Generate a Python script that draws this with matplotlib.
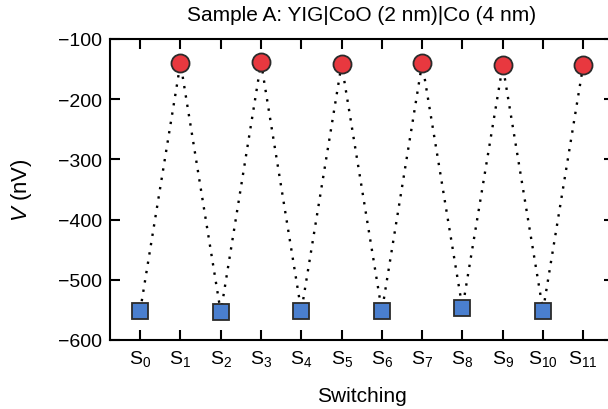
import numpy as np
import matplotlib
matplotlib.use("Agg")
import matplotlib.pyplot as plt

plt.rcParams['font.family'] = ['Liberation Sans', 'DejaVu Sans']
plt.rcParams['mathtext.fontset'] = 'custom'
plt.rcParams['mathtext.rm'] = 'Liberation Sans'
plt.rcParams['mathtext.it'] = 'Liberation Sans:italic'

# switching states and measured voltages (nV)
states = list(range(12))
tick_labels = ["S$_{%d}$" % i for i in states]
voltage = [-551, -140, -554, -139, -552, -142, -552, -140, -547, -144, -551, -143]

title = "Sample A: YIG|CoO (2 nm)|Co (4 nm)"

fig = plt.figure(figsize=(6.08, 4.10), dpi=100)
ax = fig.add_axes([110 / 608, 69 / 410, 503.5 / 608, 301 / 410])

x = np.array(states)
v = np.array(voltage)

ax.plot(x, v, linestyle=(0, (1, 3)), color='black', linewidth=1.7, zorder=1)
# odd states -> high (red circles), even -> low (blue squares)
ax.plot(x[1::2], v[1::2], 'o', markersize=13, markerfacecolor='#e8383f',
        markeredgecolor='#2b2b2b', markeredgewidth=1.3, linestyle='none', zorder=3)
ax.plot(x[0::2], v[0::2], 's', markersize=12, markerfacecolor='#4a7fcf',
        markeredgecolor='#2b2b2b', markeredgewidth=1.3, linestyle='none', zorder=3)

ax.set_xlim(-0.75, 11.75)
ax.set_ylim(-600, -100)
ax.set_xticks(states)
ax.set_xticklabels(tick_labels)
ax.set_yticks(np.arange(-600, -99, 100))

ax.tick_params(direction='in', length=7, width=1.5, top=True, right=True,
               labelsize=14, pad=6)
for s in ax.spines.values():
    s.set_linewidth(1.5)

ax.set_xlabel("Switching", fontsize=15, labelpad=13)
ax.set_ylabel("$V$ (nV)", fontsize=16, labelpad=17)
ax.set_title(title, fontsize=15, pad=14)

fig.savefig("out.png", dpi=100)
